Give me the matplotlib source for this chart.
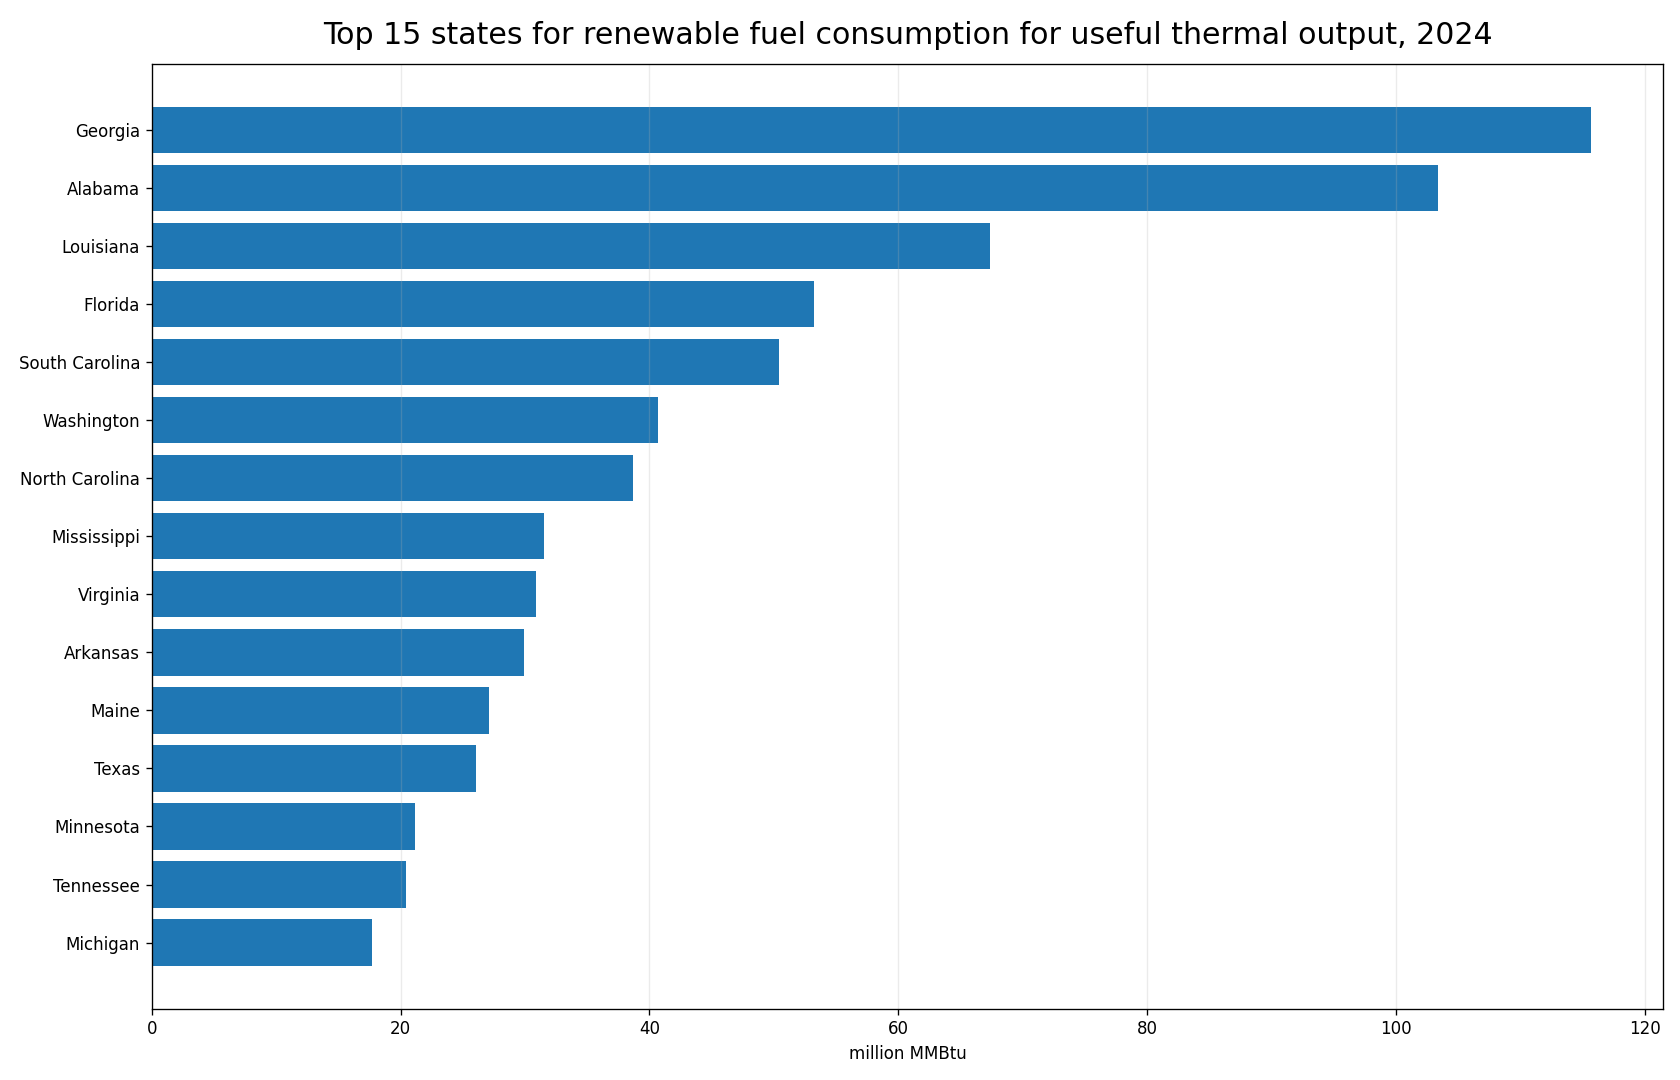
import matplotlib
matplotlib.use("Agg")
import matplotlib.pyplot as plt

states = ["Georgia", "Alabama", "Louisiana", "Florida", "South Carolina",
          "Washington", "North Carolina", "Mississippi", "Virginia", "Arkansas",
          "Maine", "Texas", "Minnesota", "Tennessee", "Michigan"]
values = [115.7, 103.4, 67.4, 53.2, 50.4,
          40.7, 38.7, 31.5, 30.9, 29.9,
          27.1, 26.1, 21.2, 20.4, 17.7]

title = "Top 15 states for renewable fuel consumption for useful thermal output, 2024"
xlabel = "million MMBtu"

fig, ax = plt.subplots(figsize=(14, 9), dpi=120)
fig.subplots_adjust(left=0.0903, right=0.990, bottom=0.066, top=0.941)

ax.barh(states, values, color="#1f77b4")
ax.invert_yaxis()
ax.grid(axis="x", alpha=0.25)
ax.set_xlabel(xlabel)
ax.set_title(title, fontsize=18, pad=12)

fig.savefig("out.png", dpi=120)
